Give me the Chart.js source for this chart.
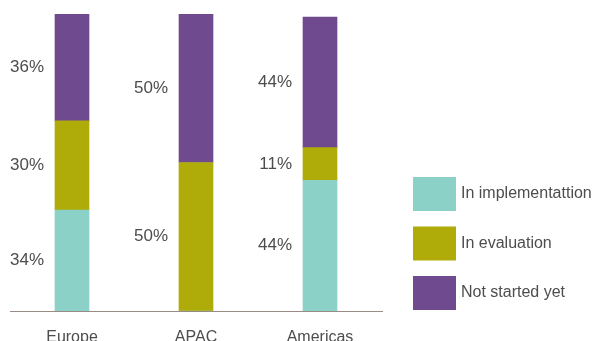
<!DOCTYPE html>
<html>
<head>
<meta charset="utf-8">
<script src="https://cdn.jsdelivr.net/npm/chart.js@4/dist/chart.umd.min.js"></script>
<style>
  html, body { margin: 0; padding: 0; background: #fff; }
  #wrap { width: 596px; height: 341px; position: relative; }
</style>
</head>
<body>
<div id="wrap"><canvas id="statusChart"></canvas></div>
<script>
const regions = ['Europe', 'APAC', 'Americas'];
const inImplementation = [34, 0, 44];
const inEvaluation = [30, 50, 11];
const notStarted = [36, 50, 44];
const seriesNames = ['In implementattion', 'In evaluation', 'Not started yet'];
const seriesColors = ['#8bd1c8', '#afac0a', '#6f4a8f'];

const FAMILY = "'Liberation Sans', Arial, sans-serif";
const TEXT = '#4d4d4d';

// percentage labels to the left of each stacked segment
const segmentLabels = {
  id: 'segmentLabels',
  afterDatasetsDraw(chart) {
    const ctx = chart.ctx;
    ctx.save();
    ctx.font = '17px ' + FAMILY;
    ctx.fillStyle = TEXT;
    ctx.textAlign = 'right';
    ctx.textBaseline = 'middle';
    chart.data.datasets.forEach((ds, i) => {
      chart.getDatasetMeta(i).data.forEach((bar, j) => {
        const v = ds.data[j];
        if (!v) return;
        const left = bar.x - bar.width / 2;
        ctx.fillText(v + '%', left - 11, (bar.y + bar.base) / 2);
      });
    });
    ctx.restore();
  }
};

// legend boxes stacked on the right
const sideLegend = {
  id: 'sideLegend',
  afterDraw(chart) {
    const ctx = chart.ctx;
    ctx.save();
    ctx.font = '16px ' + FAMILY;
    ctx.textBaseline = 'middle';
    chart.data.datasets.forEach((ds, i) => {
      const y = 177 + i * 49.5;
      ctx.fillStyle = ds.backgroundColor;
      ctx.fillRect(413, y, 43, 34);
      ctx.fillStyle = TEXT;
      ctx.fillText(ds.label, 461, y + 17);
    });
    ctx.restore();
  }
};

const datasets = [inImplementation, inEvaluation, notStarted].map((values, i) => ({
  label: seriesNames[i],
  data: values,
  backgroundColor: seriesColors[i],
  barThickness: 34,
  borderWidth: 0
}));

new Chart(document.getElementById('statusChart'), {
  type: 'bar',
  data: { labels: regions, datasets },
  options: {
    responsive: true,
    maintainAspectRatio: false,
    animation: false,
    layout: { padding: { left: 10, right: 214, top: 14, bottom: 0 } },
    plugins: {
      legend: { display: false },
      tooltip: { enabled: false }
    },
    scales: {
      x: {
        stacked: true,
        grid: { display: false },
        border: { display: true, color: '#9b8b85', width: 1 },
        ticks: { color: TEXT, font: { family: FAMILY, size: 16 }, padding: 9 },
        afterFit(scale) { scale.height = 30; }
      },
      y: {
        stacked: true,
        display: false,
        min: 0,
        max: 100
      }
    }
  },
  plugins: [segmentLabels, sideLegend]
});
</script>
</body>
</html>
